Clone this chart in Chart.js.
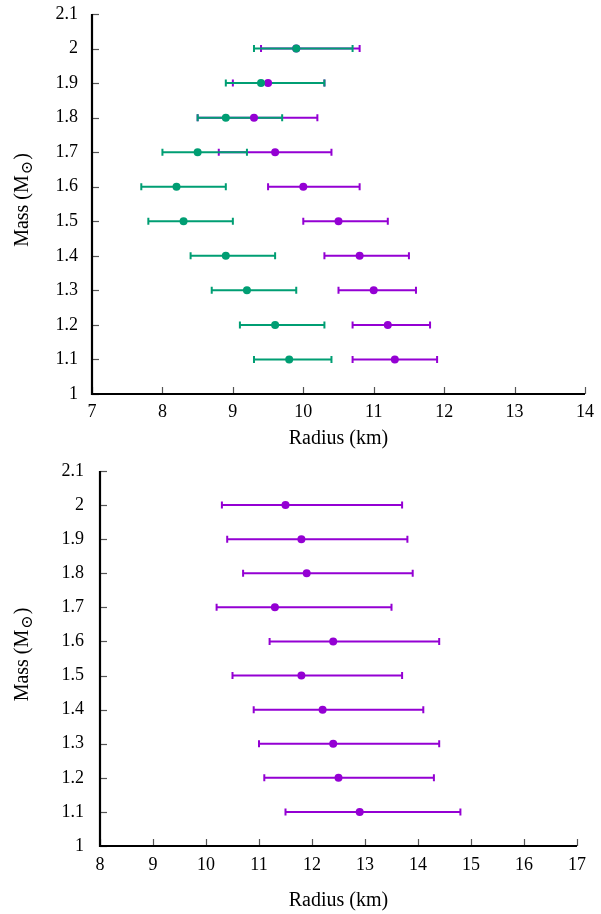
<!DOCTYPE html>
<html>
<head>
<meta charset="utf-8">
<script src="https://cdn.jsdelivr.net/npm/chart.js@4.4.1/dist/chart.umd.min.js"></script>
<style>
  html, body { margin: 0; padding: 0; background: #fff; overflow: hidden; }
  .box { position: absolute; left: 0; width: 601px; height: 457px; }
  #b1 { top: 0; }
  #b2 { top: 457px; }
</style>
</head>
<body>
<div class="box" id="b1"><canvas id="c1"></canvas></div>
<div class="box" id="b2"><canvas id="c2"></canvas></div>
<script>
// ---------- DATA ----------
const masses = [2.0, 1.9, 1.8, 1.7, 1.6, 1.5, 1.4, 1.3, 1.2, 1.1];

// Top panel, green series
const topGreenR  = [9.9, 9.4, 8.9, 8.5, 8.2, 8.3, 8.9, 9.2, 9.6, 9.8];
const topGreenLo = [9.3, 8.9, 8.5, 8.0, 7.7, 7.8, 8.4, 8.7, 9.1, 9.3];
const topGreenHi = [10.7, 10.3, 9.7, 9.2, 8.9, 9.0, 9.6, 9.9, 10.3, 10.4];

// Top panel, purple series
const topPurpleR  = [9.9, 9.5, 9.3, 9.6, 10.0, 10.5, 10.8, 11.0, 11.2, 11.3];
const topPurpleLo = [9.4, 9.0, 8.5, 8.8, 9.5, 10.0, 10.3, 10.5, 10.7, 10.7];
const topPurpleHi = [10.8, 10.3, 10.2, 10.4, 10.8, 11.2, 11.5, 11.6, 11.8, 11.9];

// Bottom panel, purple series
const botPurpleR  = [11.5, 11.8, 11.9, 11.3, 12.4, 11.8, 12.2, 12.4, 12.5, 12.9];
const botPurpleLo = [10.3, 10.4, 10.7, 10.2, 11.2, 10.5, 10.9, 11.0, 11.1, 11.5];
const botPurpleHi = [13.7, 13.8, 13.9, 13.5, 14.4, 13.7, 14.1, 14.4, 14.3, 14.8];

const yTicks = [1, 1.1, 1.2, 1.3, 1.4, 1.5, 1.6, 1.7, 1.8, 1.9, 2, 2.1];
const topXTicks = [7, 8, 9, 10, 11, 12, 13, 14];
const botXTicks = [8, 9, 10, 11, 12, 13, 14, 15, 16, 17];

const xTitle = 'Radius (km)';
const yTitleMain = 'Mass (M';
const yTitleSub = '\u2299';
const yTitleEnd = ')';

const GREEN = '#009e73';
const PURPLE = '#9400d3';
const FONT = '"Liberation Serif", "DejaVu Serif", serif';
const TICK_SIZE = 18;
const TITLE_SIZE = 20;

// ---------- HELPERS ----------
function pts(rs, lo, hi) {
  return masses.map((m, i) => ({ x: rs[i], y: m, lo: lo[i], hi: hi[i] }));
}

const errorBarPlugin = {
  id: 'errorBars',
  beforeDatasetsDraw(chart) {
    const ctx = chart.ctx;
    const xs = chart.scales.x, ys = chart.scales.y;
    const dss = chart.data.datasets.slice().reverse();
    dss.forEach((ds) => {
      ctx.save();
      ctx.strokeStyle = ds.borderColor;
      ctx.lineWidth = 2;
      ds.data.forEach((p) => {
        const y = ys.getPixelForValue(p.y);
        const x1 = xs.getPixelForValue(p.lo);
        const x2 = xs.getPixelForValue(p.hi);
        ctx.beginPath();
        ctx.moveTo(x1, y); ctx.lineTo(x2, y);
        ctx.moveTo(x1, y - 3.5); ctx.lineTo(x1, y + 3.5);
        ctx.moveTo(x2, y - 3.5); ctx.lineTo(x2, y + 3.5);
        ctx.stroke();
      });
      ctx.restore();
    });
  }
};

const axesPlugin = {
  id: 'axesDecor',
  afterDraw(chart) {
    const ctx = chart.ctx;
    const a = chart.chartArea;
    const xs = chart.scales.x, ys = chart.scales.y;
    ctx.save();
    // inward tick marks
    ctx.strokeStyle = '#555';
    ctx.lineWidth = 1.2;
    ys.ticks.forEach((t) => {
      const y = Math.round(ys.getPixelForValue(t.value)) + 0.5;
      ctx.beginPath(); ctx.moveTo(a.left, y); ctx.lineTo(a.left + 7, y); ctx.stroke();
    });
    xs.ticks.forEach((t) => {
      const x = Math.round(xs.getPixelForValue(t.value)) + 0.5;
      ctx.beginPath(); ctx.moveTo(x, a.bottom); ctx.lineTo(x, a.bottom - 7); ctx.stroke();
    });
    // axis lines
    ctx.strokeStyle = '#000';
    ctx.lineWidth = 2.2;
    ctx.beginPath();
    ctx.moveTo(a.left, a.top);
    ctx.lineTo(a.left, a.bottom);
    ctx.lineTo(a.right, a.bottom);
    ctx.stroke();
    // y title with subscript
    const cy = (a.top + a.bottom) / 2 - 4;
    ctx.translate(23, cy);
    ctx.rotate(-Math.PI / 2);
    ctx.fillStyle = '#000';
    ctx.textBaseline = 'middle';
    ctx.font = TITLE_SIZE + 'px ' + FONT;
    const w1 = ctx.measureText(yTitleMain).width;
    ctx.font = '16px ' + FONT;
    const w2 = ctx.measureText(yTitleSub).width;
    ctx.font = TITLE_SIZE + 'px ' + FONT;
    const w3 = ctx.measureText(yTitleEnd).width;
    let x0 = -(w1 + w2 + w3 + 2) / 2;
    ctx.textAlign = 'left';
    ctx.fillText(yTitleMain, x0, 0);
    ctx.font = '16px ' + FONT;
    ctx.fillText(yTitleSub, x0 + w1 + 1, 5);
    ctx.font = TITLE_SIZE + 'px ' + FONT;
    ctx.fillText(yTitleEnd, x0 + w1 + w2 + 2, 0);
    ctx.restore();
  }
};

function makeChart(canvasId, datasets, xTicks, opts) {
  return new Chart(document.getElementById(canvasId), {
    type: 'scatter',
    data: { datasets },
    plugins: [errorBarPlugin, axesPlugin],
    options: {
      responsive: true,
      maintainAspectRatio: false,
      animation: false,
      layout: { padding: { top: opts.top, right: opts.right, left: 0, bottom: 0 } },
      plugins: { legend: { display: false }, tooltip: { enabled: false } },
      scales: {
        x: {
          type: 'linear',
          min: xTicks[0], max: xTicks[xTicks.length - 1],
          afterBuildTicks: (s) => { s.ticks = xTicks.map(v => ({ value: v })); },
          afterFit: (s) => { s.height = opts.xh; s.paddingLeft = 0; s.paddingRight = 0; },
          grid: { display: false, drawTicks: false },
          border: { display: false },
          ticks: { color: '#000', font: { family: FONT, size: TICK_SIZE }, padding: opts.xpad, maxRotation: 0, autoSkip: false,
                   callback: (v) => String(v) },
          title: { display: true, text: xTitle, color: '#000', font: { family: FONT, size: TITLE_SIZE },
                   padding: { top: 0, bottom: opts.titlePad } }
        },
        y: {
          type: 'linear',
          min: 1, max: 2.1,
          afterBuildTicks: (s) => { s.ticks = yTicks.map(v => ({ value: v })); },
          afterFit: (s) => { s.width = opts.yw; s.paddingTop = 0; s.paddingBottom = 0; },
          grid: { display: false, drawTicks: false },
          border: { display: false },
          ticks: { color: '#000', font: { family: FONT, size: TICK_SIZE }, padding: opts.ypad, autoSkip: false,
                   callback: (v) => String(Math.round(v * 10) / 10) }
        }
      }
    }
  });
}

makeChart('c1', [
  { label: 'green', data: pts(topGreenR, topGreenLo, topGreenHi), backgroundColor: GREEN, borderColor: GREEN,
    pointRadius: 4, pointBorderWidth: 0, pointHoverRadius: 4 },
  { label: 'purple', data: pts(topPurpleR, topPurpleLo, topPurpleHi), backgroundColor: PURPLE, borderColor: PURPLE,
    pointRadius: 4, pointBorderWidth: 0, pointHoverRadius: 4 }
], topXTicks, { top: 14, right: 16, xh: 63, yw: 92, xpad: 7, ypad: 14, titlePad: 6 });

makeChart('c2', [
  { label: 'purple', data: pts(botPurpleR, botPurpleLo, botPurpleHi), backgroundColor: PURPLE, borderColor: PURPLE,
    pointRadius: 4, pointBorderWidth: 0, pointHoverRadius: 4 }
], botXTicks, { top: 14, right: 24, xh: 68, yw: 100, xpad: 8, ypad: 16, titlePad: 1 });
</script>
</body>
</html>
